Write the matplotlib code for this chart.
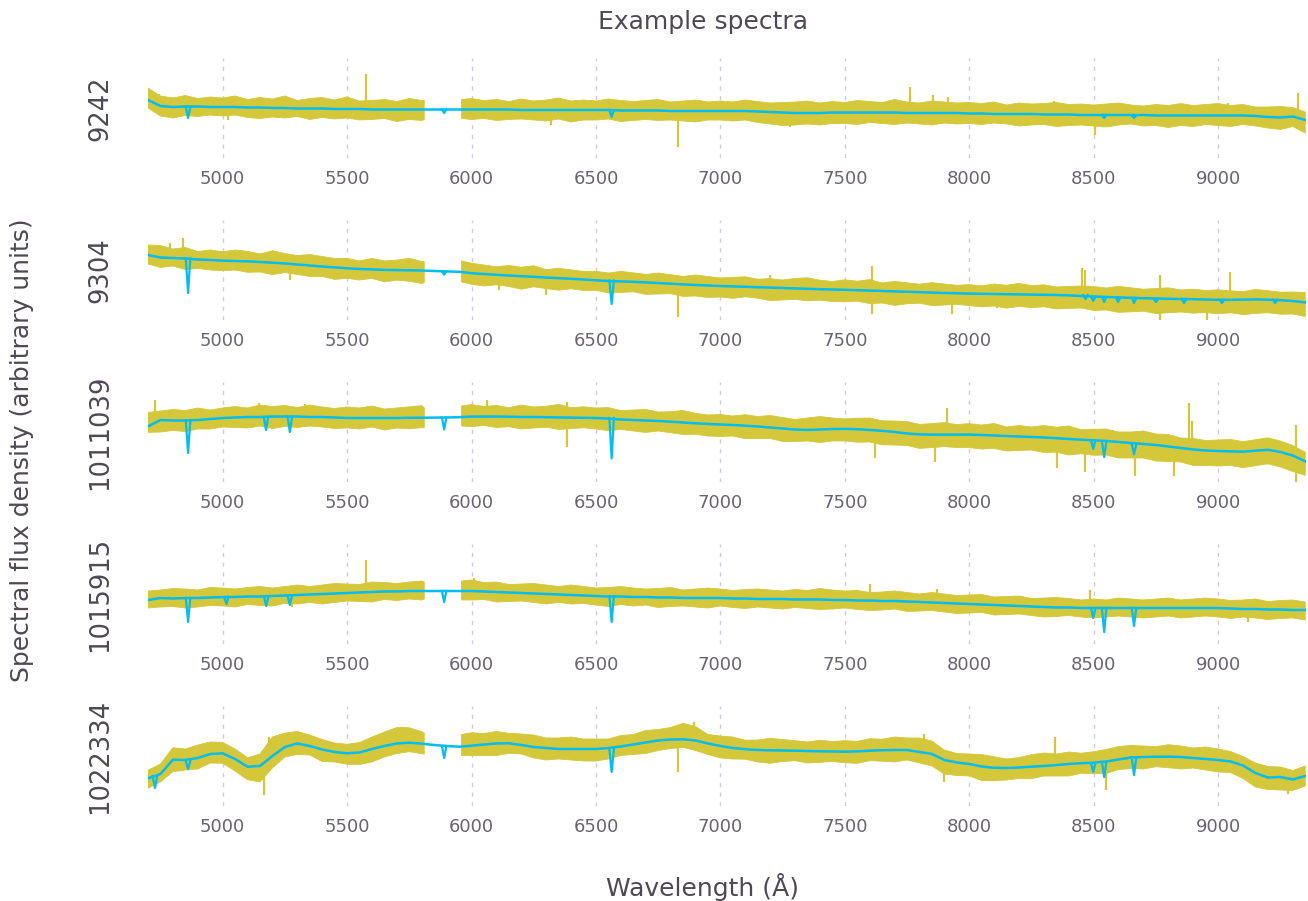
import numpy as np
import matplotlib.pyplot as plt

# star ids shown on the left of each panel
star_ids = ["9242", "9304", "1011039", "1015915", "1022334"]

# wavelength grid (Angstrom); the observed spectra have a gap 5810-5960
wave = list(range(4700, 5801, 50)) + [5810, 5850, 5900, 5950, 5960] + list(range(6000, 9351, 50))
xticks = [5000, 5500, 6000, 6500, 7000, 7500, 8000, 8500, 9000]

# model flux (blue) per star, arbitrary units
model_9242 = [58, 52, 51, 51.5, 51.5, 51,
              51, 51, 50.5, 50.5, 50, 50, 49.5, 49.5, 49.5, 49,
              49, 49, 48.5, 48.5, 48.5, 48.5, 48.5,
              48.5, 48.5, 48.5, 48.5, 48.5,
              48.5, 48.5, 48.5, 48.5, 48, 48, 48, 48, 48, 48,
              48, 48, 47.5, 47.5, 47.5, 47.5, 47, 47, 47, 47,
              47, 47, 47, 46.5, 46, 45.5, 45, 45, 45, 45.5,
              45.5, 45.5, 45.5, 45.5, 45.5, 45, 45, 45, 45, 45,
              44.5, 44.5, 44, 44, 44, 44, 43.5, 43.5, 43.5, 43,
              43, 43, 43, 43, 43, 42.5, 42.5, 42.5, 42.5, 42.5,
              42.5, 42.5, 42.5, 42, 41, 40.5, 41.5, 38]
model_9304 = [65, 62.5, 62, 61.5, 60.5, 60,
              59.3, 59, 58.7, 58, 57.3, 56.5, 55.5, 54.5, 53.5, 52.6,
              51.7, 51, 50.6, 50.1, 49.9, 49.7, 49.5,
              49.4, 49, 48.6, 48.2, 48,
              46.8, 46, 45.2, 44.5, 43.8, 43.2, 42.4, 41.8, 41.2, 40.5,
              39.7, 39, 38.6, 38.2, 37.6, 37, 36.3, 35.6, 35, 34.5,
              34, 33.6, 33.2, 32.8, 32.4, 32, 31.6, 31.2, 30.8, 30.5,
              30.2, 29.8, 29.4, 29, 28.6, 28.2, 27.8, 27.4, 27, 26.7,
              26.4, 26.2, 26, 25.8, 25.6, 25.4, 25.2, 25, 24.6, 24,
              23.5, 23, 22.6, 22.2, 21.8, 21.5, 21.2, 21, 20.8, 20.5,
              20.2, 20.2, 20.4, 20.6, 20.3, 19.8, 19, 17.6]
model_1011039 = [55.6, 62, 61.5, 61.5, 62, 63,
                 64, 64.5, 65, 65, 65.5, 65.5, 65.5, 65, 65, 64.5,
                 64, 64, 64, 64, 64, 64.2, 64.3,
                 64.3, 64.4, 64.5, 64.8, 65,
                 65.4, 65.5, 65.5, 65.3, 65, 65, 64.8, 64.6, 64.4, 64.2,
                 64, 63.4, 62.5, 62, 61.5, 61, 60.3, 59.5, 58.7, 58,
                 57.5, 57, 56.3, 55.5, 54.5, 53.5, 52.5, 52, 52.5, 53,
                 53.1, 52.8, 52, 51.2, 50, 48.5, 47.6, 47.4, 47.4, 47.4,
                 47.4, 47, 46.5, 46, 45.5, 45, 44.5, 43.8, 43, 42.3,
                 41.7, 41, 40, 39, 38, 37, 35.5, 34, 32.5, 31.5,
                 31, 30.6, 30.3, 31.3, 32.2, 30, 26.5, 20.7]
model_1015915 = [44, 46, 45.5, 46, 46, 46.5,
                 47, 47, 47.5, 47.5, 48, 48.5, 49, 49.5, 50, 50.5,
                 51, 51.5, 52, 52.5, 52.5, 53, 53,
                 53, 53, 53, 53, 53,
                 53, 52.5, 52, 51.5, 51, 50.5, 50, 49.5, 49, 48.5,
                 48, 47.5, 47.5, 47, 47, 46.5, 46.5, 46, 46, 46,
                 46, 45.5, 45.5, 45, 45, 45, 44.5, 44.5, 44.5, 44,
                 44, 43.5, 43.5, 43, 43, 42.5, 42, 41.5, 41, 40.5,
                 40, 39.5, 39, 38.5, 38, 37.5, 37, 36.5, 36.5, 36,
                 36, 36, 36, 36, 36, 36, 36, 36, 36, 36,
                 36, 35.5, 35, 35, 34.5, 34.5, 34, 34]
model_1022334 = [27.7, 32, 46.3, 46, 48, 52,
                 52.7, 47, 39.3, 40, 50, 59, 62.5, 60, 56.5, 54,
                 52.7, 53.5, 57, 60, 62.5, 63.3, 62.3,
                 62, 61, 60, 59.3, 59.5,
                 60.3, 61.5, 62.5, 62.7, 61, 59, 58, 57, 57, 57,
                 57, 58, 59.5, 61.5, 63.5, 65.5, 66.5, 66.7, 65.5, 62.5,
                 60, 58, 56.8, 56, 55.7, 55.5, 55.3, 55, 54.7, 54.5,
                 54.3, 54.6, 55.3, 55.8, 56, 56, 54, 52, 46, 43.5,
                 42, 39.5, 38.2, 38, 38.5, 39.3, 40, 41, 42, 42.8,
                 43.3, 44.5, 46.5, 48.5, 49, 49.3, 49.3, 49, 48, 47,
                 46, 44.5, 40.5, 33, 28.5, 29, 26.5, 30]

# observed flux band: how far the noisy data reach above / below the model
up_9242 = [12, 10, 9, 11, 8, 10,
           9, 11, 8, 10, 9, 12, 8, 10, 11, 9,
           12, 8, 9, 10, 8, 11, 9,
           9, None, None, None, 10,
           11, 9, 10, 8, 11, 9, 10, 12, 9, 10,
           9, 11, 10, 9, 10, 11, 9, 10, 11, 9,
           10, 9, 11, 10, 9, 10, 11, 12, 10, 11,
           10, 12, 11, 10, 13, 11, 10, 12, 11, 10,
           11, 10, 12, 9, 11, 10, 11, 12, 10, 11,
           10, 11, 12, 10, 9, 11, 10, 12, 10, 11,
           12, 10, 11, 9, 10, 11, 9, 8]
dn_9242 = [8, 10, 11, 9, 10, 8,
           9, 8, 10, 11, 9, 10, 8, 11, 9, 10,
           9, 11, 10, 9, 12, 10, 11,
           10, None, None, None, 9,
           10, 9, 11, 10, 9, 10, 11, 9, 12, 10,
           10, 9, 11, 10, 9, 10, 9, 10, 11, 9,
           9, 10, 9, 11, 12, 13, 12, 11, 12, 11,
           11, 12, 10, 11, 12, 10, 11, 12, 10, 11,
           10, 11, 9, 10, 12, 11, 10, 12, 11, 10,
           11, 12, 10, 9, 11, 10, 12, 10, 11, 9,
           10, 11, 9, 10, 11, 12, 10, 13]
up_9304 = [10, 12, 9, 11, 8, 10,
           9, 11, 10, 8, 12, 10, 9, 11, 10, 9,
           10, 8, 11, 9, 10, 12, 9,
           9, None, None, None, 11,
           10, 9, 8, 10, 9, 11, 8, 10, 9, 8,
           9, 8, 10, 9, 8, 10, 9, 8, 10, 9,
           8, 9, 10, 8, 9, 8, 10, 11, 9, 8,
           10, 9, 11, 8, 10, 9, 8, 10, 9, 8,
           9, 8, 10, 9, 11, 9, 10, 8, 9, 10,
           10, 9, 11, 10, 9, 10, 11, 9, 10, 9,
           10, 9, 8, 10, 9, 8, 9, 10]
dn_9304 = [9, 10, 8, 11, 9, 10,
           10, 9, 11, 10, 12, 9, 10, 11, 10, 12,
           10, 11, 9, 12, 10, 11, 13,
           12, None, None, None, 10,
           11, 12, 10, 11, 13, 10, 11, 12, 10, 11,
           10, 12, 11, 10, 12, 11, 10, 12, 11, 12,
           11, 12, 10, 11, 13, 12, 11, 12, 11, 12,
           12, 11, 13, 12, 14, 12, 11, 13, 12, 11,
           12, 13, 12, 14, 12, 13, 12, 14, 13, 12,
           14, 13, 15, 14, 13, 15, 14, 13, 14, 13,
           14, 13, 15, 14, 13, 14, 13, 14]
up_1011039 = [14, 9, 11, 10, 12, 9,
              10, 11, 9, 12, 10, 11, 9, 12, 10, 9,
              11, 10, 12, 9, 10, 11, 12,
              10, None, None, None, 11,
              12, 10, 11, 9, 12, 10, 11, 13, 10, 11,
              10, 11, 9, 10, 11, 9, 10, 12, 10, 9,
              10, 9, 11, 10, 12, 11, 10, 12, 13, 11,
              10, 11, 12, 10, 11, 12, 10, 11, 12, 10,
              11, 10, 12, 9, 11, 10, 12, 11, 13, 10,
              11, 12, 10, 11, 13, 11, 12, 10, 11, 10,
              11, 12, 10, 11, 12, 11, 10, 9]
dn_1011039 = [6, 12, 10, 11, 9, 10,
              9, 10, 11, 9, 12, 10, 11, 9, 10, 11,
              10, 11, 9, 12, 10, 11, 10,
              10, None, None, None, 9,
              10, 9, 11, 10, 12, 11, 10, 12, 11, 10,
              11, 12, 10, 11, 12, 10, 11, 12, 11, 12,
              12, 11, 13, 12, 11, 13, 12, 11, 13, 12,
              12, 13, 12, 14, 13, 12, 14, 13, 12, 13,
              13, 14, 13, 15, 14, 13, 15, 14, 16, 14,
              15, 14, 16, 15, 14, 16, 15, 14, 16, 15,
              15, 14, 16, 15, 14, 15, 16, 14]
up_1015915 = [9, 8, 10, 9, 8, 10,
              9, 8, 9, 10, 8, 9, 10, 8, 9, 10,
              9, 8, 10, 9, 8, 9, 10,
              9, None, None, None, 10,
              11, 9, 10, 8, 9, 10, 9, 8, 10, 9,
              8, 9, 10, 9, 8, 9, 10, 8, 9, 10,
              9, 8, 9, 10, 9, 8, 10, 9, 11, 10,
              9, 10, 8, 9, 10, 9, 8, 10, 9, 8,
              9, 10, 8, 9, 10, 8, 9, 10, 9, 8,
              9, 8, 10, 9, 8, 9, 10, 8, 9, 10,
              9, 8, 9, 10, 8, 9, 10, 8]
dn_1015915 = [8, 9, 8, 10, 9, 8,
              9, 10, 8, 9, 10, 8, 9, 8, 10, 9,
              8, 9, 10, 8, 9, 8, 9,
              8, None, None, None, 9,
              9, 8, 10, 9, 8, 9, 10, 8, 9, 8,
              9, 10, 8, 9, 8, 10, 9, 8, 9, 10,
              8, 9, 10, 8, 9, 10, 8, 9, 10, 9,
              8, 9, 10, 9, 8, 10, 9, 8, 9, 10,
              9, 8, 10, 9, 8, 9, 10, 9, 8, 9,
              10, 9, 8, 9, 10, 9, 8, 10, 9, 8,
              9, 10, 8, 9, 10, 9, 8, 10]
up_1022334 = [8, 10, 12, 11, 13, 12,
              11, 10, 9, 12, 19, 14, 12, 11, 10, 9,
              9, 10, 12, 14, 16, 15, 12,
              11, None, None, None, 12,
              13, 11, 12, 10, 11, 12, 10, 11, 12, 10,
              10, 9, 11, 10, 12, 11, 12, 16, 14, 9,
              10, 11, 9, 10, 12, 11, 10, 9, 11, 10,
              11, 10, 12, 11, 13, 12, 14, 13, 10, 9,
              10, 12, 11, 9, 10, 12, 13, 11, 12, 10,
              11, 12, 13, 12, 11, 10, 12, 11, 10, 12,
              11, 10, 9, 10, 11, 10, 9, 10]
dn_1022334 = [10, 8, 12, 10, 11, 9,
              10, 12, 13, 16, 12, 10, 11, 9, 12, 10,
              11, 12, 13, 11, 10, 9, 10,
              10, None, None, None, 9,
              10, 11, 12, 10, 9, 11, 12, 10, 11, 12,
              12, 11, 9, 10, 11, 10, 9, 8, 10, 11,
              12, 11, 10, 12, 13, 11, 10, 12, 11, 10,
              11, 12, 10, 11, 12, 10, 11, 12, 14, 13,
              12, 14, 13, 12, 11, 12, 10, 11, 12, 10,
              11, 12, 10, 11, 12, 10, 11, 12, 10, 11,
              12, 11, 13, 14, 12, 13, 11, 10]

# single noisy pixels in the data: (wavelength, low, high)
spikes_9242 = [(5577, 50, 84), (6830, 11, 48), (7760, 45, 71), (7855, 45, 63),
               (7915, 45, 61), (9321, 41, 65), (8506, 23, 43), (7281, 31, 46),
               (6320, 33, 48), (4745, 50, 64), (5390, 48, 60), (7100, 47, 58),
               (8340, 44, 57), (9040, 42, 55), (5020, 38, 51)]
spikes_9304 = [(4840, 64, 82), (6830, 3, 38), (6300, 25, 42), (7608, 6, 54),
               (8451, 24, 52), (8465, 24, 50), (9049, 20, 48), (7930, 6, 27),
               (8765, -3, 45), (8957, -1, 20), (4790, 62, 77), (5270, 40, 56),
               (7200, 33, 45), (8110, 12, 26), (6110, 30, 46)]
spikes_1011039 = [(4730, 65, 82), (6063, 65, 82), (6383, 35, 80), (7910, 47, 74),
                  (8884, 32, 79), (8893, 32, 61), (9312, -1, 57), (8351, 14, 44),
                  (8465, 10, 42), (8666, 6, 38), (8822, 6, 34), (7861, 20, 47),
                  (7623, 24, 51), (5145, 65, 79), (5330, 65, 78), (9125, 16, 31)]
spikes_1015915 = [(5577, 50, 84), (7600, 44, 60), (8485, 36, 54), (6010, 53, 66),
                  (7870, 41, 55), (9120, 22, 35), (5280, 37, 49)]
spikes_1022334 = [(5166, 11, 45), (6830, 34, 66), (6895, 66, 84), (8345, 40, 69),
                  (8550, 16, 44), (7900, 24, 46), (5185, 45, 69), (7820, 54, 72),
                  (9280, 12, 27), (5720, 63, 79)]

# absorption lines in the model: (wavelength, bottom, top)
lines_9242 = [(4861, 40, 51), (5890, 45, 48.5), (6563, 41, 48), (8542, 40, 43), (8662, 40, 42.5)]
lines_9304 = [(4861, 27, 61.5), (5890, 45.5, 48.5), (6563, 16, 39.5), (8467, 21, 25),
              (8498, 19, 23.5), (8542, 18, 23.2), (8598, 18, 22.5), (8662, 17, 22),
              (8750, 18, 21.3), (8863, 17, 21), (9015, 17, 20.2), (9229, 17, 20.3)]
lines_1011039 = [(4861, 29, 61.5), (5174, 52, 65), (5270, 50, 65.5), (5890, 52.6, 64.5),
                 (6563, 23.6, 64), (8498, 33, 41.7), (8542, 25, 41), (8662, 27.6, 38)]
lines_1015915 = [(4861, 22, 46), (5015, 40, 47), (5175, 38, 47.5), (5270, 39, 48.5),
                 (5890, 42, 53), (6563, 22, 48), (8498, 26, 36), (8542, 12, 36), (8662, 18, 36)]
lines_1022334 = [(4728, 18, 30), (4861, 37, 45), (5890, 48, 60), (6563, 34, 57),
                 (8498, 34, 43), (8542, 29, 44), (8662, 31, 48.5)]

models = [model_9242, model_9304, model_1011039, model_1015915, model_1022334]
ups = [up_9242, up_9304, up_1011039, up_1015915, up_1022334]
dns = [dn_9242, dn_9304, dn_1011039, dn_1015915, dn_1022334]
spikes = [spikes_9242, spikes_9304, spikes_1011039, spikes_1015915, spikes_1022334]
lines = [lines_9242, lines_9304, lines_1011039, lines_1015915, lines_1022334]

yellow = "#d4c83a"
blue = "#00bdf2"
text_dark = "#4e4952"
text_tick = "#6a6470"
grid_col = "#cdcae0"

W, H = 1308, 901
fig = plt.figure(figsize=(W / 100, H / 100), dpi=100)

x = np.array(wave, dtype=float)
for i, sid in enumerate(star_ids):
    bottom_px = 158 + 162 * i
    ax = fig.add_axes([148 / W, 1 - bottom_px / H, 1158 / W, 100 / H])
    m = np.array(models[i], dtype=float)
    up = np.array(ups[i], dtype=float)
    dn = np.array(dns[i], dtype=float)

    # noisy observed spectrum as a band around the model
    ax.fill_between(x, m - dn, m + up, color=yellow, lw=0.6, edgecolor=yellow, zorder=2)
    for w, a, b in spikes[i]:
        ax.vlines(w, a, b, color=yellow, lw=1.6, zorder=2)
    ax.plot(x, m, color=blue, lw=1.8, zorder=3)
    for w, a, b in lines[i]:
        ax.plot([w - 9, w, w + 9], [b, a, b], color=blue, lw=1.6, zorder=3)

    ax.set_xlim(4700, 9353)
    ax.set_ylim(0, 100)
    ax.set_xticks(xticks)
    ax.set_yticks([])
    ax.grid(axis="x", color=grid_col, linestyle=(0, (3, 4)), lw=1, zorder=0)
    ax.tick_params(axis="x", length=0, pad=8.5, labelsize=13, labelcolor=text_tick)
    for s in ax.spines.values():
        s.set_visible(False)
    ax.set_ylabel(sid, fontsize=18.5, color=text_dark, labelpad=25)

fig.text(703 / W, 1 - 22 / H, "Example spectra", ha="center", va="center",
         fontsize=18, color=text_dark)
fig.text(703 / W, 1 - 887 / H, "Wavelength (Å)", ha="center", va="center",
         fontsize=18, color=text_dark)
fig.text(22 / W, 1 - 450 / H, "Spectral flux density (arbitrary units)", ha="center",
         va="center", rotation=90, fontsize=18, color=text_dark)

fig.savefig("out.png", dpi=100)
